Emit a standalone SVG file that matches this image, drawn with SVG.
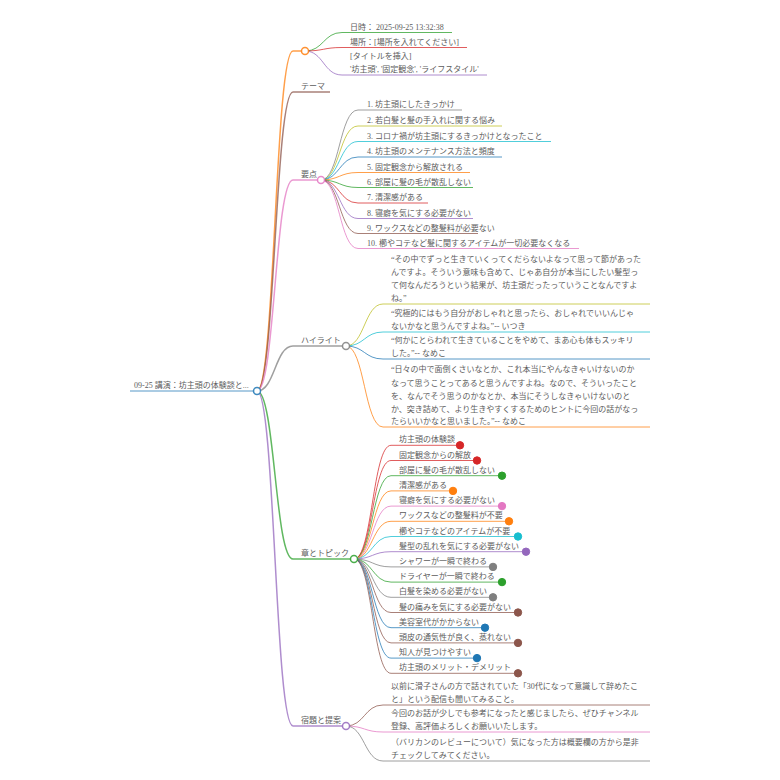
<svg xmlns="http://www.w3.org/2000/svg" width="780" height="780" viewBox="0 0 780 780">
<style>
text { font-family: "Liberation Serif", "Noto Sans CJK JP", serif; font-size: 8px; fill: #5c5c5c; }
path, line { fill: none; stroke-width: 1; stroke-opacity: 0.75; }
.w1 { stroke-width: 1.5; }
.c { fill: #fff; stroke-width: 1.5; stroke-opacity: 0.85; }
.d { stroke-width: 1; }
.blue { stroke: #1f77b4; } .orange { stroke: #ff7f0e; } .green { stroke: #2ca02c; } .red { stroke: #d62728; }
.purple { stroke: #9467bd; } .brown { stroke: #8c564b; } .pink { stroke: #e377c2; } .gray { stroke: #7f7f7f; }
.olive { stroke: #bcbd22; } .cyan { stroke: #17becf; }
.fblue { fill: #1f77b4; } .forange { fill: #ff7f0e; } .fgreen { fill: #2ca02c; } .fred { fill: #d62728; }
.fpurple { fill: #9467bd; } .fbrown { fill: #8c564b; } .fpink { fill: #e377c2; } .fgray { fill: #7f7f7f; }
.fcyan { fill: #17becf; }
</style>
<rect width="780" height="780" fill="#fff"/>
<g id="connectors">
  <path class="w1 orange" d="M257 391 C275 391,275 51,293 51"/>
  <path class="w1 brown" d="M257 391 C275 391,275 92,293 92"/>
  <path class="w1 pink" d="M257 391 C275 391,275 180,293 180"/>
  <path class="w1 gray" d="M257 391 C275 391,275 346,293 346"/>
  <path class="w1 green" d="M257 391 C275 391,275 559,293 559"/>
  <path class="w1 purple" d="M257 391 C275 391,275 726,293 726"/>
  <path class="green" d="M305 51 C323.5 51,323.5 32.5,342 32.5"/>
  <path class="red" d="M305 51 C323.5 51,323.5 47.5,342 47.5"/>
  <path class="purple" d="M305 51 C323.5 51,323.5 75,342 75"/>
  <path class="gray" d="M321 180 C339.5 180,339.5 110,358 110"/>
  <path class="olive" d="M321 180 C339.5 180,339.5 126,358 126"/>
  <path class="cyan" d="M321 180 C339.5 180,339.5 141.5,358 141.5"/>
  <path class="blue" d="M321 180 C339.5 180,339.5 157,358 157"/>
  <path class="orange" d="M321 180 C339.5 180,339.5 172.5,358 172.5"/>
  <path class="green" d="M321 180 C339.5 180,339.5 187.5,358 187.5"/>
  <path class="red" d="M321 180 C339.5 180,339.5 203,358 203"/>
  <path class="purple" d="M321 180 C339.5 180,339.5 218.5,358 218.5"/>
  <path class="brown" d="M321 180 C339.5 180,339.5 233.5,358 233.5"/>
  <path class="pink" d="M321 180 C339.5 180,339.5 248.5,358 248.5"/>
  <path class="olive" d="M346 346 C364.5 346,364.5 304,383 304"/>
  <path class="cyan" d="M346 346 C364.5 346,364.5 332,383 332"/>
  <path class="blue" d="M346 346 C364.5 346,364.5 359,383 359"/>
  <path class="orange" d="M346 346 C364.5 346,364.5 427,383 427"/>
  <path class="red" d="M354 559 C372.5 559,372.5 445.3,391 445.3"/>
  <path class="red" d="M354 559 C372.5 559,372.5 460.5,391 460.5"/>
  <path class="green" d="M354 559 C372.5 559,372.5 475.7,391 475.7"/>
  <path class="orange" d="M354 559 C372.5 559,372.5 490.9,391 490.9"/>
  <path class="pink" d="M354 559 C372.5 559,372.5 506.1,391 506.1"/>
  <path class="orange" d="M354 559 C372.5 559,372.5 521.3,391 521.3"/>
  <path class="cyan" d="M354 559 C372.5 559,372.5 536.5,391 536.5"/>
  <path class="purple" d="M354 559 C372.5 559,372.5 551.7,391 551.7"/>
  <path class="gray" d="M354 559 C372.5 559,372.5 566.9,391 566.9"/>
  <path class="green" d="M354 559 C372.5 559,372.5 582.1,391 582.1"/>
  <path class="gray" d="M354 559 C372.5 559,372.5 597.3,391 597.3"/>
  <path class="brown" d="M354 559 C372.5 559,372.5 612.5,391 612.5"/>
  <path class="blue" d="M354 559 C372.5 559,372.5 627.7,391 627.7"/>
  <path class="brown" d="M354 559 C372.5 559,372.5 642.9,391 642.9"/>
  <path class="blue" d="M354 559 C372.5 559,372.5 658.1,391 658.1"/>
  <path class="brown" d="M354 559 C372.5 559,372.5 673.3,391 673.3"/>
  <path class="brown" d="M346 726 C364.5 726,364.5 705,383 705"/>
  <path class="pink" d="M346 726 C364.5 726,364.5 732,383 732"/>
  <path class="gray" d="M346 726 C364.5 726,364.5 761,383 761"/>
</g>

<g id="root">
  <line class="blue" x1="130" y1="391" x2="254" y2="391" stroke-width="3" stroke-opacity="1"/>
  <text x="134" y="388">09-25 講演：坊主頭の体験談と...</text>
  <circle class="c blue" cx="257" cy="391" r="3.5"/>
</g>

<g id="info">
  <line class="w1 orange" x1="293" y1="51" x2="302" y2="51"/>
  <circle class="c orange" cx="305" cy="51" r="3.5"/>
</g>
<g id="info-date"><line class="green" x1="342" y1="32.5" x2="452" y2="32.5"/><text x="350" y="29.5">日時： 2025-09-25 13:32:38</text></g>
<g id="info-place"><line class="red" x1="342" y1="47.5" x2="467" y2="47.5"/><text x="350" y="44.5">場所：[場所を入れてください]</text></g>
<g id="info-title"><line class="purple" x1="342" y1="75" x2="487" y2="75"/><text x="350" y="58.5">[タイトルを挿入]</text><text x="350" y="72">'坊主頭', '固定観念', 'ライフスタイル'</text></g>

<g id="theme"><line class="w1 brown" x1="293" y1="92" x2="330" y2="92"/><text x="301" y="89">テーマ</text></g>

<g id="points">
  <line class="w1 pink" x1="293" y1="180" x2="318" y2="180"/>
  <text x="301" y="177">要点</text>
  <circle class="c pink" cx="321" cy="180" r="3.5"/>
</g>
<g id="p1"><line class="gray" x1="358" y1="110" x2="462" y2="110"/><text x="367" y="107">1. 坊主頭にしたきっかけ</text></g>
<g id="p2"><line class="olive" x1="358" y1="126" x2="502" y2="126"/><text x="367" y="123">2. 若白髪と髪の手入れに関する悩み</text></g>
<g id="p3"><line class="cyan" x1="358" y1="141.5" x2="551" y2="141.5"/><text x="367" y="138.5">3. コロナ禍が坊主頭にするきっかけとなったこと</text></g>
<g id="p4"><line class="blue" x1="358" y1="157" x2="502" y2="157"/><text x="367" y="154">4. 坊主頭のメンテナンス方法と頻度</text></g>
<g id="p5"><line class="orange" x1="358" y1="172.5" x2="470" y2="172.5"/><text x="367" y="169.5">5. 固定観念から解放される</text></g>
<g id="p6"><line class="green" x1="358" y1="187.5" x2="473" y2="187.5"/><text x="367" y="184.5">6. 部屋に髪の毛が散乱しない</text></g>
<g id="p7"><line class="red" x1="358" y1="203" x2="428" y2="203"/><text x="367" y="200">7. 清潔感がある</text></g>
<g id="p8"><line class="purple" x1="358" y1="218.5" x2="473" y2="218.5"/><text x="367" y="215.5">8. 寝癖を気にする必要がない</text></g>
<g id="p9"><line class="brown" x1="358" y1="233.5" x2="478" y2="233.5"/><text x="367" y="230.5">9. ワックスなどの整髪料が必要ない</text></g>
<g id="p10"><line class="pink" x1="358" y1="248.5" x2="579" y2="248.5"/><text x="367" y="245.5">10. 櫛やコテなど髪に関するアイテムが一切必要なくなる</text></g>

<g id="highlights">
  <line class="w1 gray" x1="293" y1="346" x2="343" y2="346"/>
  <text x="301" y="343">ハイライト</text>
  <circle class="c gray" cx="346" cy="346" r="3.5"/>
</g>
<g id="h1"><line class="olive" x1="383" y1="304" x2="650" y2="304"/>
  <text x="391" y="262">“その中でずっと生きていくってくだらないよなって思って節があった</text>
  <text x="391" y="275">んですよ。そういう意味も含めて、じゃあ自分が本当にしたい髪型っ</text>
  <text x="391" y="288">て何なんだろうという結果が、坊主頭だったっていうことなんですよ</text>
  <text x="391" y="301">ね。”</text></g>
<g id="h2"><line class="cyan" x1="383" y1="332" x2="650" y2="332"/>
  <text x="391" y="316">“究極的にはもう自分がおしゃれと思ったら、おしゃれでいいんじゃ</text>
  <text x="391" y="329">ないかなと思うんですよね。”-- いつき</text></g>
<g id="h3"><line class="blue" x1="383" y1="359" x2="650" y2="359"/>
  <text x="391" y="343">“何かにとらわれて生きていることをやめて、まあ心も体もスッキリ</text>
  <text x="391" y="356">した。”-- なめこ</text></g>
<g id="h4"><line class="orange" x1="383" y1="427" x2="650" y2="427"/>
  <text x="391" y="372">“日々の中で面倒くさいなとか、これ本当にやんなきゃいけないのか</text>
  <text x="391" y="385.5">なって思うことってあると思うんですよね。なので、そういったこと</text>
  <text x="391" y="398.5">を、なんでそう思うのかなとか、本当にそうしなきゃいけないのと</text>
  <text x="391" y="411.5">か、突き詰めて、より生きやすくするためのヒントに今回の話がなっ</text>
  <text x="391" y="424">たらいいかなと思いました。”-- なめこ</text></g>

<g id="chapters">
  <line class="w1 green" x1="293" y1="559" x2="351" y2="559"/>
  <text x="301" y="556">章とトピック</text>
  <circle class="c green" cx="354" cy="559" r="3.5"/>
</g>
<g id="c1"><line class="red" x1="391" y1="445.3" x2="460" y2="445.3"/><text x="399" y="442.3">坊主頭の体験談</text><circle class="d red fred" cx="460" cy="445.3" r="3.7"/></g>
<g id="c2"><line class="red" x1="391" y1="460.5" x2="477" y2="460.5"/><text x="399" y="457.5">固定観念からの解放</text><circle class="d red fred" cx="477" cy="460.5" r="3.7"/></g>
<g id="c3"><line class="green" x1="391" y1="475.7" x2="502" y2="475.7"/><text x="399" y="472.7">部屋に髪の毛が散乱しない</text><circle class="d green fgreen" cx="502" cy="475.7" r="3.7"/></g>
<g id="c4"><line class="orange" x1="391" y1="490.9" x2="453" y2="490.9"/><text x="399" y="487.9">清潔感がある</text><circle class="d orange forange" cx="453" cy="490.9" r="3.7"/></g>
<g id="c5"><line class="pink" x1="391" y1="506.1" x2="502" y2="506.1"/><text x="399" y="503.1">寝癖を気にする必要がない</text><circle class="d pink fpink" cx="502" cy="506.1" r="3.7"/></g>
<g id="c6"><line class="orange" x1="391" y1="521.3" x2="509" y2="521.3"/><text x="399" y="518.3">ワックスなどの整髪料が不要</text><circle class="d orange forange" cx="509" cy="521.3" r="3.7"/></g>
<g id="c7"><line class="cyan" x1="391" y1="536.5" x2="518" y2="536.5"/><text x="399" y="533.5">櫛やコテなどのアイテムが不要</text><circle class="d cyan fcyan" cx="518" cy="536.5" r="3.7"/></g>
<g id="c8"><line class="purple" x1="391" y1="551.7" x2="526" y2="551.7"/><text x="399" y="548.7">髪型の乱れを気にする必要がない</text><circle class="d purple fpurple" cx="526" cy="551.7" r="3.7"/></g>
<g id="c9"><line class="gray" x1="391" y1="566.9" x2="493" y2="566.9"/><text x="399" y="563.9">シャワーが一瞬で終わる</text><circle class="d gray fgray" cx="493" cy="566.9" r="3.7"/></g>
<g id="c10"><line class="green" x1="391" y1="582.1" x2="502" y2="582.1"/><text x="399" y="579.1">ドライヤーが一瞬で終わる</text><circle class="d green fgreen" cx="502" cy="582.1" r="3.7"/></g>
<g id="c11"><line class="gray" x1="391" y1="597.3" x2="493" y2="597.3"/><text x="399" y="594.3">白髪を染める必要がない</text><circle class="d gray fgray" cx="493" cy="597.3" r="3.7"/></g>
<g id="c12"><line class="brown" x1="391" y1="612.5" x2="518" y2="612.5"/><text x="399" y="609.5">髪の痛みを気にする必要がない</text><circle class="d brown fbrown" cx="518" cy="612.5" r="3.7"/></g>
<g id="c13"><line class="blue" x1="391" y1="627.7" x2="485" y2="627.7"/><text x="399" y="624.7">美容室代がかからない</text><circle class="d blue fblue" cx="485" cy="627.7" r="3.7"/></g>
<g id="c14"><line class="brown" x1="391" y1="642.9" x2="518" y2="642.9"/><text x="399" y="639.9">頭皮の通気性が良く、蒸れない</text><circle class="d brown fbrown" cx="518" cy="642.9" r="3.7"/></g>
<g id="c15"><line class="blue" x1="391" y1="658.1" x2="477" y2="658.1"/><text x="399" y="655.1">知人が見つけやすい</text><circle class="d blue fblue" cx="477" cy="658.1" r="3.7"/></g>
<g id="c16"><line class="brown" x1="391" y1="673.3" x2="518" y2="673.3"/><text x="399" y="670.3">坊主頭のメリット・デメリット</text><circle class="d brown fbrown" cx="518" cy="673.3" r="3.7"/></g>

<g id="homework">
  <line class="w1 purple" x1="293" y1="726" x2="343" y2="726"/>
  <text x="301" y="723">宿題と提案</text>
  <circle class="c purple" cx="346" cy="726" r="3.5"/>
</g>
<g id="k1"><line class="brown" x1="383" y1="705" x2="650" y2="705"/>
  <text x="391" y="689">以前に滑子さんの方で話されていた「30代になって意識して辞めたこ</text>
  <text x="391" y="702">と」という配信も聞いてみること。</text></g>
<g id="k2"><line class="pink" x1="383" y1="732" x2="650" y2="732"/>
  <text x="391" y="716">今回のお話が少しでも参考になったと感じましたら、ぜひチャンネル</text>
  <text x="391" y="729">登録、高評価よろしくお願いいたします。</text></g>
<g id="k3"><line class="gray" x1="383" y1="761" x2="650" y2="761"/>
  <text x="391" y="745">（バリカンのレビューについて）気になった方は概要欄の方から是非</text>
  <text x="391" y="758">チェックしてみてください。</text></g>
</svg>
